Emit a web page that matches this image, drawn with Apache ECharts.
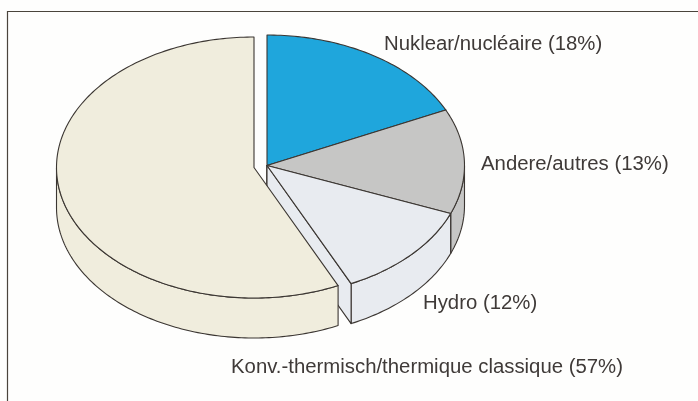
<!DOCTYPE html>
<html><head><meta charset="utf-8">
<style>html,body{margin:0;padding:0;background:#fefefd}#c{width:698px;height:401px}</style>
<script src="https://cdn.jsdelivr.net/npm/echarts@6/dist/echarts.min.js"></script>
</head><body><div id="c"></div>
<script>
var categories = ['Nuklear/nucléaire', 'Andere/autres', 'Hydro', 'Konv.-thermisch/thermique classique'];
var values = [18, 13, 12, 57];
var colors = ['#1fa6dc', '#c6c6c5', '#e8ebf0', '#f0eddd'];
var shiftX = [0, 0, 0, -13];
var shiftY = [0, 0, 0, 2];
var labelX = [384, 481, 423, 231];
var labelY = [44, 164, 303, 367];

var CX = 267, CY = 165.5, RX = 197.5, RY = 130.5, DEPTH = 40;
var INK = '#3b3632';
var total = values.reduce(function (a, b) { return a + b; }, 0);

function pt(cx, cy, deg, dy) {
  var r = deg * Math.PI / 180;
  return [cx + RX * Math.sin(r), cy - RY * Math.cos(r) + (dy || 0)];
}
function arc(cx, cy, a, b, dy) {
  var out = [], n = Math.max(2, Math.ceil(Math.abs(b - a)));
  for (var i = 0; i <= n; i++) out.push(pt(cx, cy, a + (b - a) * i / n, dy));
  return out;
}
function poly(points, fill) {
  return { type: 'polygon', shape: { points: points },
    style: { fill: fill, stroke: INK, lineWidth: 1.1, lineJoin: 'round' } };
}
function renderItem(params, api) {
  var i = params.dataIndex, start = 0;
  for (var k = 0; k < i; k++) start += values[k];
  var a = start / total * 360, b = (start + api.value(0)) / total * 360;
  var cx = CX + shiftX[i], cy = CY + shiftY[i], col = colors[i], kids = [];
  var fa = Math.max(a, 90), fb = Math.min(b, 270);
  if (fb > fa) {
    kids.push(poly(arc(cx, cy, fa, fb, 0).concat(arc(cx, cy, fb, fa, DEPTH)), col));
  }
  if (b > 0 && b < 180) {
    var e = pt(cx, cy, b, 0);
    kids.push(poly([[cx, cy], e, [e[0], e[1] + DEPTH], [cx, cy + DEPTH]], col));
  }
  kids.push(poly([[cx, cy]].concat(arc(cx, cy, a, b, 0)), col));
  kids.push({ type: 'text', style: {
    text: categories[i] + ' (' + values[i] + '%)', x: labelX[i], y: labelY[i],
    fill: '#3f3a38', font: '20.35px "Liberation Sans", Arial, sans-serif',
    align: 'left', verticalAlign: 'middle' } });
  return { type: 'group', children: kids };
}
var chart = echarts.init(document.getElementById('c'), null, { renderer: 'canvas' });
chart.setOption({
  animation: false,
  backgroundColor: '#fefefd',
  graphic: [{ type: 'polyline', silent: true, z: -1,
    shape: { points: [[7.5, 401], [7.5, 11.5], [698, 11.5]] },
    style: { fill: 'none', stroke: '#4a443c', lineWidth: 1.2 } }],
  series: [{
    type: 'custom', coordinateSystem: 'none', renderItem: renderItem,
    data: values.map(function (v, i) { return { name: categories[i], value: [v] }; })
  }]
});
</script></body></html>
